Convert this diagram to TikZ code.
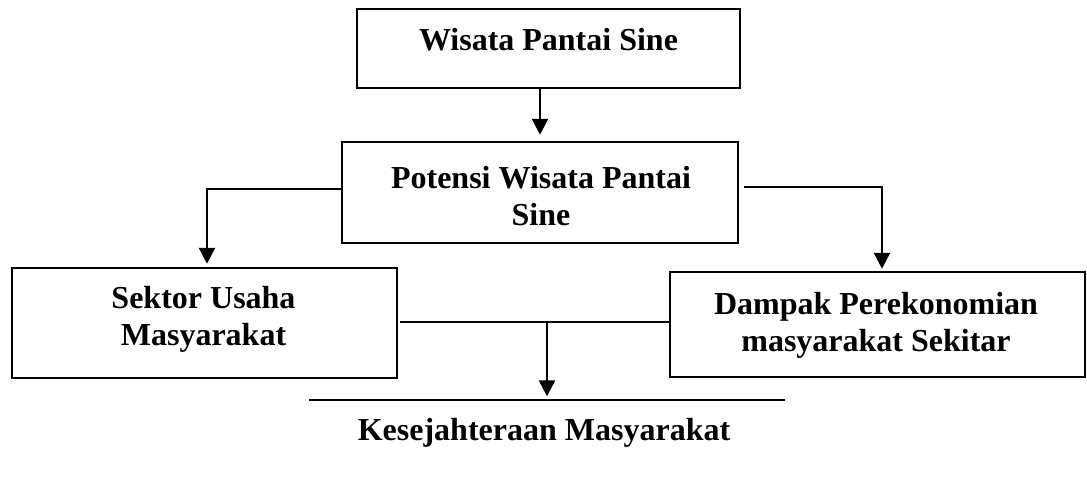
\documentclass[tikz,border=0pt]{standalone}
\usepackage{fontspec}
\setmainfont{Liberation Serif}
\usetikzlibrary{positioning, arrows.meta}

\begin{document}
\begin{tikzpicture}[
    x=1pt, y=-1pt,
    blok/.style = {
        rectangle, draw, line width=2.5pt, inner sep=0pt
    },
    judul/.style = {
        font=\fontsize{32}{37}\selectfont\bfseries, align=center,
        inner sep=0pt, anchor=base
    },
    arrow/.style = {
        -{Triangle[length=16pt, width=16pt]}, line width=2.4pt
    },
    garis/.style = {
        line width=2.4pt
    }
]
\useasboundingbox (0,0) rectangle (1087,479);

% ── Kotak ──
\node[blok, minimum width=383pt, minimum height=79pt]  (wisata)  at (548.5, 48.5) {};
\node[blok, minimum width=396pt, minimum height=101pt] (potensi) at (540, 192.5)  {};
\node[blok, minimum width=385pt, minimum height=110pt] (sektor)  at (204.5, 323)  {};
\node[blok, minimum width=415pt, minimum height=105pt] (dampak)  at (877.5, 324.5) {};
\node[inner sep=0pt, minimum width=475pt] (sejahtera) at (547, 400) {};
\draw[line width=2.5pt] (sejahtera.west) -- (sejahtera.east);

% ── Teks (base = baris terakhir) ──
\node[judul] (twisata)    at (548.5, 50) {Wisata Pantai Sine};
\node[judul] (tpotensi)   at (541, 225)  {Potensi Wisata Pantai\\Sine};
\node[judul] (tsektor)    at (203.5, 345) {Sektor Usaha\\Masyarakat};
\node[judul] (tdampak)    at (876, 351)  {Dampak Perekonomian\\masyarakat Sekitar};
\node[judul] (tsejahtera) at (544, 440)  {Kesejahteraan Masyarakat};

% ── Panah ──
\draw[arrow, shorten >=6pt] (wisata.south -| potensi.north) -- (potensi.north);
\draw[arrow, shorten >=3pt] ([yshift=3.5pt]potensi.west) -| ([xshift=2.5pt]sektor.north);
\draw[arrow, shorten >=2pt] ([xshift=5pt, yshift=5.5pt]potensi.east) -| ([xshift=4.5pt]dampak.north);
\draw[garis] ([xshift=2pt, yshift=1pt]sektor.east) -- ([yshift=1pt]sektor.east -| dampak.west);
\draw[arrow, shorten >=3pt] ([yshift=1pt]sektor.east -| sejahtera.north) -- (sejahtera.north);

\end{tikzpicture}
\end{document}
